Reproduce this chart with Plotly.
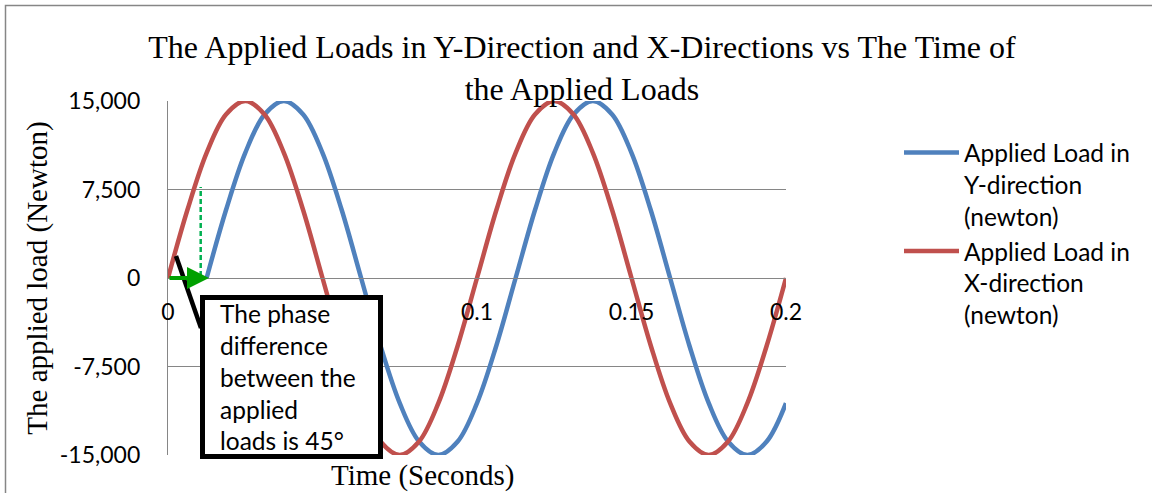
import plotly.graph_objects as go

# ---------------- data ----------------
time_x = [0, 0.00625, 0.0125, 0.01875, 0.025, 0.03125, 0.0375, 0.04375, 0.05,
          0.05625, 0.0625, 0.06875, 0.075, 0.08125, 0.0875, 0.09375, 0.1,
          0.10625, 0.1125, 0.11875, 0.125, 0.13125, 0.1375, 0.14375, 0.15,
          0.15625, 0.1625, 0.16875, 0.175, 0.18125, 0.1875, 0.19375, 0.2]
load_x_dir = [0, 5740, 10607, 13858, 15000, 13858, 10607, 5740, 0,
              -5740, -10607, -13858, -15000, -13858, -10607, -5740, 0,
              5740, 10607, 13858, 15000, 13858, 10607, 5740, 0,
              -5740, -10607, -13858, -15000, -13858, -10607, -5740, 0]

time_y = [0.0125, 0.01875, 0.025, 0.03125, 0.0375, 0.04375, 0.05,
          0.05625, 0.0625, 0.06875, 0.075, 0.08125, 0.0875, 0.09375, 0.1,
          0.10625, 0.1125, 0.11875, 0.125, 0.13125, 0.1375, 0.14375, 0.15,
          0.15625, 0.1625, 0.16875, 0.175, 0.18125, 0.1875, 0.19375, 0.2]
load_y_dir = [0, 5740, 10607, 13858, 15000, 13858, 10607, 5740, 0,
              -5740, -10607, -13858, -15000, -13858, -10607, -5740, 0,
              5740, 10607, 13858, 15000, 13858, 10607, 5740, 0,
              -5740, -10607, -13858, -15000, -13858, -10607]

y_tick_vals = [-15000, -7500, 0, 7500, 15000]
y_tick_text = ["-15,000", "-7,500", "0", "7,500", "15,000"]
x_tick_vals = [0, 0.05, 0.1, 0.15, 0.2]
x_tick_text = ["0", "", "0.1", "0.15", "0.2"]   # 0.05 is hidden behind the call-out box

name_y = "Applied Load in<br>Y-direction<br>(newton)"
name_x = "Applied Load in<br>X-direction<br>(newton)"
title_text = "The Applied Loads in Y-Direction and X-Directions vs The Time of<br>the Applied Loads"
y_title = "The applied load (Newton)"
x_title = "Time (Seconds)"
note_text = "The phase<br>difference<br>between the<br>applied<br>loads is 45°"

# ---------------- layout helpers ----------------
W, H = 1152, 493
def px(x):
    return x / W
def py(y):
    return 1 - y / H

SANS = "Lato, 'Open Sans', sans-serif"
SERIF = "'Liberation Serif', 'Times New Roman', serif"
GRID = "#868686"
BLUE = "#4F81BD"
RED = "#C0504D"

x_dom = [px(168), px(786)]
y_dom = [py(455), py(101)]
zero_pos = py(278)

fig = go.Figure()
fig.add_trace(go.Scatter(x=time_y, y=load_y_dir, name=name_y, mode="lines",
                         legendgroup="y",
                         line=dict(color=BLUE, width=4.5, shape="spline", smoothing=1)))
fig.add_trace(go.Scatter(x=time_x, y=load_x_dir, name=name_x, mode="lines",
                         legendgroup="x",
                         line=dict(color=RED, width=4.5, shape="spline", smoothing=1)))

fig.update_layout(
    width=W, height=H,
    margin=dict(l=0, r=0, t=0, b=0, autoexpand=False),
    paper_bgcolor="white", plot_bgcolor="white",
    title=dict(text=title_text, x=px(582), xanchor="center", y=py(58), yanchor="top",
               automargin=False,
               font=dict(family=SERIF, size=32, color="black")),
    xaxis=dict(domain=x_dom, range=[0, 0.2], anchor="free", position=zero_pos,
               automargin=False,
               tickmode="array", tickvals=x_tick_vals, ticktext=x_tick_text,
               showgrid=False, zeroline=False, showline=True, linecolor=GRID, linewidth=1.3,
               ticks="", ticklabelstandoff=13,
               tickfont=dict(family=SANS, size=23, color="black")),
    yaxis=dict(domain=y_dom, range=[-15000, 15000], anchor="x", automargin=False,
               tickmode="array", tickvals=y_tick_vals, ticktext=y_tick_text,
               showgrid=True, gridcolor=GRID, gridwidth=1.3, zeroline=False,
               showline=True, linecolor=GRID, linewidth=1.3, ticks="",
               ticklabelstandoff=22,
               tickfont=dict(family=SANS, size=23, color="black"),
               title=dict(text=y_title, standoff=3,
                          font=dict(family=SERIF, size=29, color="black"))),
    legend=dict(x=px(899), y=py(130), xanchor="left", yanchor="top",
                valign="top", itemwidth=55, traceorder="grouped", tracegroupgap=0,
                font=dict(family=SANS, size=24.5, color="black"),
                bgcolor="rgba(0,0,0,0)"),
    showlegend=True,
)

shapes = []
# outer chart border (top and left visible)
shapes.append(dict(type="rect", xref="paper", yref="paper",
                   x0=px(5.5), x1=px(1170), y0=py(510), y1=py(5.5),
                   line=dict(color=GRID, width=1.5), fillcolor="rgba(0,0,0,0)", layer="above"))
# green dashed helper line
shapes.append(dict(type="line", xref="paper", yref="paper",
                   x0=px(200.7), x1=px(200.7), y0=py(276), y1=py(187),
                   line=dict(color="#00B050", width=2.5, dash="5px,3px"), layer="above"))
# callout pointer
shapes.append(dict(type="line", xref="paper", yref="paper",
                   x0=px(176), y0=py(256), x1=px(201), y1=py(328),
                   line=dict(color="black", width=4.5), layer="above"))
# callout box
shapes.append(dict(type="rect", xref="paper", yref="paper",
                   x0=px(202.5), x1=px(380.5), y0=py(456.5), y1=py(297.5),
                   line=dict(color="black", width=5), fillcolor="white", layer="above"))
fig.update_layout(shapes=shapes)

annotations = [
    # green phase arrow
    dict(x=px(209), y=zero_pos, xref="paper", yref="paper", text="",
         showarrow=True, ax=-41, ay=0, arrowhead=2, arrowsize=1.1, arrowwidth=4,
         arrowcolor="#00A000", standoff=0),
    # callout text
    dict(x=px(219), y=py(377), xref="paper", yref="paper", text=note_text,
         showarrow=False, xanchor="left", yanchor="middle", align="left",
         borderpad=0, font=dict(family=SANS, size=24.5, color="black")),
    # x axis title
    dict(x=px(422), y=py(475), xref="paper", yref="paper", text=x_title,
         showarrow=False, xanchor="center", yanchor="middle",
         font=dict(family=SERIF, size=29, color="black")),
]
fig.update_layout(annotations=annotations)

fig.write_html("out.html")
